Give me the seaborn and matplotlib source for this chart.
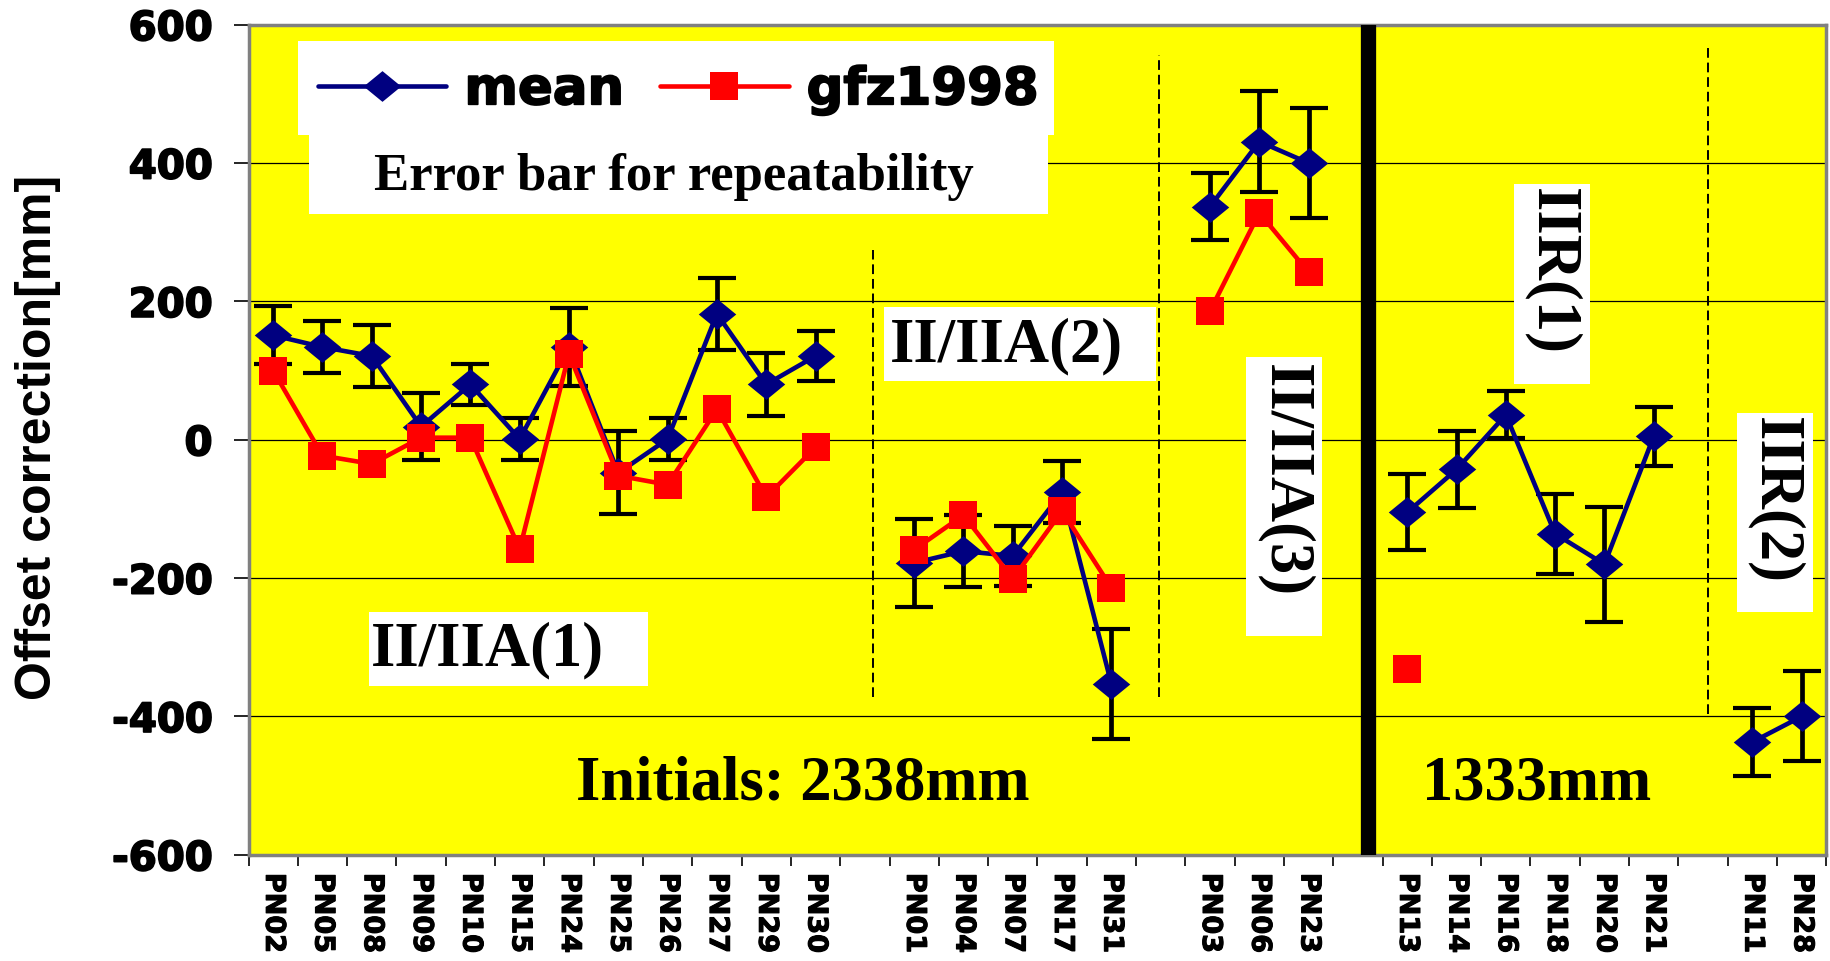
import numpy as np
import pandas as pd
import matplotlib
matplotlib.use("Agg")
import matplotlib.pyplot as plt
import matplotlib.patheffects as pe
import seaborn as sns
from matplotlib.patches import Rectangle
from matplotlib.lines import Line2D
from matplotlib import font_manager as fm

# ---- data -------------------------------------------------------------
stations = ["PN02", "PN05", "PN08", "PN09", "PN10", "PN15", "PN24", "PN25",
            "PN26", "PN27", "PN29", "PN30", "",
            "PN01", "PN04", "PN07", "PN17", "PN31", "",
            "PN03", "PN06", "PN23", "",
            "PN13", "PN14", "PN16", "PN18", "PN20", "PN21", "",
            "PN11", "PN28"]
group = [1] * 12 + [0] + [2] * 5 + [0] + [3] * 3 + [0] + [4] * 6 + [0] + [5] * 2
nan = np.nan
mean_mm = [151, 134, 121, 19, 80, 1, 134, -48, 1, 182, 80, 121, nan,
           -178, -161, -168, -76, -353, nan,
           337, 431, 400, nan,
           -105, -43, 36, -136, -180, 5, nan,
           -437, -400]
repeat_mm = [42, 37, 45, 48, 30, 30, 57, 60, 30, 52, 46, 36, nan,
             64, 52, 44, 45, 80, nan,
             48, 73, 79, nan,
             55, 55, 34, 58, 83, 43, nan,
             49, 65]
gfz1998_mm = [100, -23, -35, 3, 3, -158, 124, -52, -65, 44, -83, -11, nan,
              -159, -109, -201, -103, -214, nan,
              186, 328, 242, nan,
              -331, nan, nan, nan, nan, nan, nan,
              nan, nan]

# ---- fonts ------------------------------------------------------------
def pick_font(candidates):
    for fam in candidates:
        try:
            fm.findfont(fm.FontProperties(family=fam, weight="bold"),
                        fallback_to_default=False)
            return fam
        except Exception:
            continue
    return "DejaVu Sans"

SANS_WIDE = "DejaVu Sans"
SERIF = pick_font(["Liberation Serif", "DejaVu Serif"])
NARROW = pick_font(["Liberation Sans Narrow", "Liberation Sans"])
# heavier strokes to imitate a black-weight sans face
HEAVY = [pe.withStroke(linewidth=1.3, foreground="black")]

sns.set_theme(style="white")
plt.rcParams["font.family"] = ["DejaVu Sans"]
plt.rcParams["text.color"] = "black"
plt.rcParams["xtick.color"] = "black"
plt.rcParams["ytick.color"] = "black"
plt.rcParams["axes.labelcolor"] = "black"

df = pd.DataFrame({"pos": np.arange(len(stations)), "station": stations,
                   "group": group, "mean": mean_mm, "err": repeat_mm,
                   "gfz": gfz1998_mm})
seg = df[df["group"] > 0]

fig = plt.figure(figsize=(18.3, 9.62), dpi=100)
ax = fig.add_axes([0.1358, 0.1104, 0.8622, 0.8629])
ax.set_facecolor("#FFFF00")

NAVY = "#000080"
RED = "#FF0000"
# slightly flattened diamond marker
DIAMOND = [(-1.0, 0.0), (0.0, 0.82), (1.0, 0.0), (0.0, -0.82), (-1.0, 0.0)]
DIAMOND_SIZE = 27
SQUARE_SIZE = 20

# error bars for repeatability
m = seg.dropna(subset=["mean"])
ax.errorbar(m["pos"], m["mean"], yerr=m["err"], fmt="none", ecolor="black",
            elinewidth=3.4, capsize=13.5, capthick=3.0, zorder=3)

# mean series
sns.lineplot(data=m, x="pos", y="mean", units="group", estimator=None,
             sort=False, color=NAVY, lw=3.3, marker=DIAMOND,
             markersize=DIAMOND_SIZE, markeredgecolor=NAVY,
             markeredgewidth=0, legend=False, ax=ax, zorder=4)

# gfz1998 series
g = seg.dropna(subset=["gfz"])
sns.lineplot(data=g, x="pos", y="gfz", units="group", estimator=None,
             sort=False, color=RED, lw=3.3, marker="s", markersize=SQUARE_SIZE,
             markeredgecolor=RED, markeredgewidth=0, legend=False, ax=ax,
             zorder=5)

# ---- axes -------------------------------------------------------------
ax.set_xlim(-0.5, len(stations) - 0.5)
ax.set_ylim(-600, 600)
ax.set_yticks(np.arange(-600, 601, 200))
ax.set_yticklabels([str(v) for v in range(-600, 601, 200)],
                   fontsize=29, fontweight="bold", family=SANS_WIDE,
                   color="black")
ax.yaxis.grid(True, color="black", lw=0.9)
ax.set_axisbelow(True)
ax.tick_params(axis="y", length=11, width=1.2, color="black", pad=15,
               direction="out", left=True)

ax.set_xticks(df["pos"])
ax.set_xticklabels(stations, rotation=-90, fontsize=19.5, fontweight="bold",
                   family=SANS_WIDE, va="top", ha="center", color="black")
ax.tick_params(axis="x", which="major", length=0, pad=13)
ax.set_xticks(np.arange(-0.5, len(stations)), minor=True)
ax.tick_params(axis="x", which="minor", length=8, width=1.2, color="black",
               direction="out", bottom=True)
ax.set_xlabel("")
ax.set_ylabel("")
for lab in ax.get_yticklabels():
    lab.set_path_effects(HEAVY)
for lab in ax.get_xticklabels():
    lab.set_path_effects([pe.withStroke(linewidth=0.8, foreground="black")])

for side in ["left", "top", "right", "bottom"]:
    ax.spines[side].set_color("#808080")
    ax.spines[side].set_linewidth(2.5)

fig.text(0.021, 0.545, "Offset correction[mm]", rotation=90, ha="center",
         va="center", fontsize=42 if NARROW == "Liberation Sans Narrow" else 36,
         fontweight="bold", family=NARROW, color="black")

# ---- separators ---------------------------------------------------------
ax.axvline(22.2, color="black", lw=11, zorder=6)
dash = (0, (5, 2.5))
ax.vlines([12.17], -372, 274, colors="black", lw=1.4, linestyles=dash, zorder=2)
ax.vlines([17.96], -372, 556, colors="black", lw=1.4, linestyles=dash, zorder=2)
ax.vlines([29.09], -396, 568, colors="black", lw=1.4, linestyles=dash, zorder=2)

# ---- white label boxes ----------------------------------------------------
boxes = [(0.5, 441, 15.83, 576), (0.73, 327, 15.72, 441),
         (1.94, -356, 7.6, -249), (12.38, 85, 17.9, 192),
         (19.72, -283, 21.28, 120), (25.16, 81, 26.7, 369),
         (29.68, -249, 31.22, 39)]
for x0, y0, x1, y1 in boxes:
    ax.add_patch(Rectangle((x0, y0), x1 - x0, y1 - y0, facecolor="white",
                           edgecolor="none", zorder=2.5))

serif_kw = dict(family=SERIF, fontweight="bold", color="black", zorder=7)
ax.text(8.12, 381, "Error bar for repeatability", ha="center", va="center",
        fontsize=38, **serif_kw)
ax.text(1.99, -303, "II/IIA(1)", ha="left", va="center", fontsize=45, **serif_kw)
ax.text(12.5, 137, "II/IIA(2)", ha="left", va="center", fontsize=45, **serif_kw)
ax.text(20.5, -58, "II/IIA(3)", ha="center", va="center", rotation=-90,
        fontsize=45, **serif_kw)
ax.text(25.93, 244, "IIR(1)", ha="center", va="center", rotation=-90,
        fontsize=45, **serif_kw)
ax.text(30.45, -86, "IIR(2)", ha="center", va="center", rotation=-90,
        fontsize=45, **serif_kw)
ax.text(10.75, -497, "Initials: 2338mm", ha="center", va="center",
        fontsize=45, **serif_kw)
ax.text(25.63, -497, "1333mm", ha="center", va="center", fontsize=45,
        **serif_kw)

# ---- legend -------------------------------------------------------------
handles = [Line2D([], [], color=NAVY, lw=3.3, marker=DIAMOND,
                  markersize=DIAMOND_SIZE, markeredgewidth=0),
           Line2D([], [], color=RED, lw=3.3, marker="s",
                  markersize=SQUARE_SIZE, markeredgewidth=0)]
leg = ax.legend(handles, ["mean", "gfz1998"], loc="center left",
                bbox_to_anchor=(0.044, 0.921), ncol=2, frameon=False,
                prop=dict(family=SANS_WIDE, weight="bold", size=37),
                handlelength=2.5, handletextpad=0.35, columnspacing=0.7,
                borderaxespad=0, borderpad=0, labelcolor="black")
for t in leg.get_texts():
    t.set_path_effects(HEAVY)
leg.set_zorder(8)

fig.savefig("out.png", dpi=100, facecolor="white")
